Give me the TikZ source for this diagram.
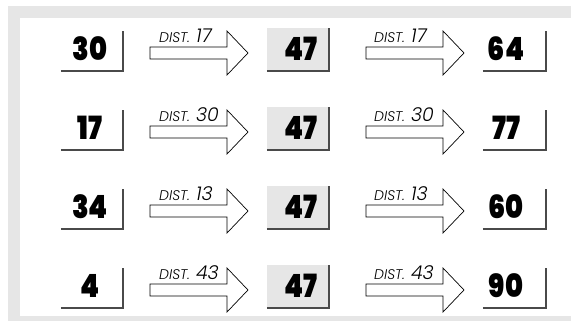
\documentclass[tikz,border=0pt]{standalone}
\usepackage{fontspec}
\setmainfont{Poppins}
\IfFontExistsTF{Poppins Black}{\newfontfamily\numfont{Poppins Black}}{%
  \IfFontExistsTF{Poppins ExtraBold}{\newfontfamily\numfont{Poppins ExtraBold}}{%
    \newfontfamily\numfont{Poppins}[UprightFont=*-Bold, FakeBold=1.5]}}
\IfFontExistsTF{Poppins Light}{\newfontfamily\distfont{Poppins Light}[ItalicFont={Poppins Light Italic}]}{%
  \newfontfamily\distfont{Poppins}}
\usepackage{graphicx}
\definecolor{bgray}{HTML}{E6E6E6}
\definecolor{fgray}{HTML}{4A4A4A}
\tikzset{
  numtxt/.style={inner sep=0pt, anchor=base, font=\fontsize{32}{32}\selectfont\numfont},
  frameline/.style={draw=fgray, line width=2.2pt},
  whitebox/.style={inner sep=0pt, minimum width=62pt, minimum height=39pt, fill=white},
  graybox/.style={inner sep=0pt, minimum width=62pt, minimum height=43pt, fill=bgray},
  arrowbody/.style={draw=black, line width=0.7pt, fill=white, line join=miter},
  disttxt/.style={inner sep=0pt, anchor=base west, font=\distfont\itshape},
}
\newcommand{\distlabel}[1]{{\fontsize{14}{14}\selectfont DIST.}\hspace{6pt}{\fontsize{19}{19}\selectfont #1}}
\newcommand{\numbox}[1]{\scalebox{0.85}[1]{#1}}
\begin{document}
\begin{tikzpicture}[x=1pt,y=-1pt]
\useasboundingbox (0,0) rectangle (571,321);
\fill[bgray] (8,6) rectangle (571,321);
\fill[white] (20,18) rectangle (571,316);
\foreach \c/\a/\d/\b [count=\i] in {51.5/30/17/64, 130.5/17/30/77, 209.5/34/13/60, 288.5/4/43/90} {
  % first box
  \node[whitebox] (a\i) at (92,\c-0.5) {};
  \draw[frameline] (a\i.south west) -- (a\i.south east) -- (a\i.north east);
  \node[numtxt] (ta\i) at (90,\c+9) {\numbox{\a}};
  % first arrow
  \coordinate (p\i) at (150,\c+1.5);
  \draw[arrowbody] (p\i) ++(0,-6) -- ++(77,0) -- ++(0,-16) -- ++(21,22) -- ++(-21,22) -- ++(0,-16) -- ++(-77,0) -- cycle;
  \node[disttxt] (la\i) at (159,\c-9) {\distlabel{\d}};
  % middle box
  \node[graybox] (b\i) at (298,\c-2) {};
  \draw[frameline] (b\i.south west) -- (b\i.south east) -- (b\i.north east);
  \node[numtxt] (tb\i) at (301,\c+9) {\numbox{47}};
  % second arrow
  \coordinate (q\i) at (366,\c+1.5);
  \draw[arrowbody] (q\i) ++(0,-6) -- ++(77,0) -- ++(0,-16) -- ++(21,22) -- ++(-21,22) -- ++(0,-16) -- ++(-77,0) -- cycle;
  \node[disttxt] (lb\i) at (374,\c-9) {\distlabel{\d}};
  % last box
  \node[whitebox, minimum width=63pt] (c\i) at (514.5,\c-0.5) {};
  \draw[frameline] (c\i.south west) -- (c\i.south east) -- (c\i.north east);
  \node[numtxt] (tc\i) at (506,\c+9) {\numbox{\b}};
}
\end{tikzpicture}
\end{document}
